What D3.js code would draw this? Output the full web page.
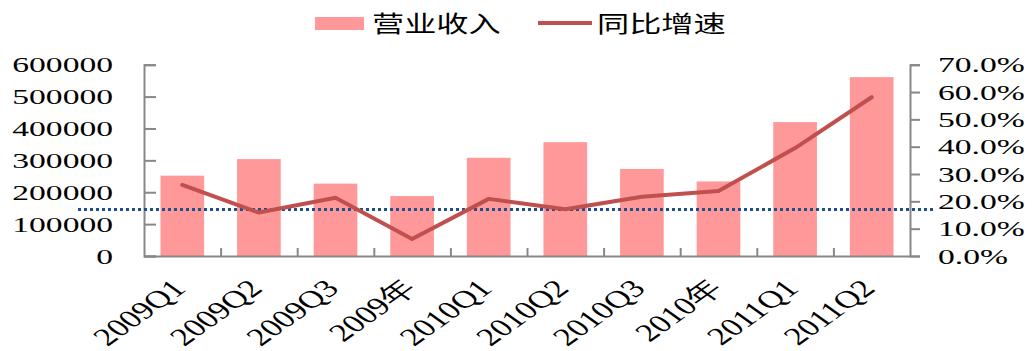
<!DOCTYPE html>
<html>
<head>
<meta charset="utf-8">
<script src="https://cdn.jsdelivr.net/npm/d3@7"></script>
<style>
  body { margin: 0; background: #fff; }
  svg { display: block; }
</style>
</head>
<body>
<div id="chart"></div>
<script>
// data
var categories = ['2009Q1', '2009Q2', '2009Q3', '2009年', '2010Q1', '2010Q2', '2010Q3', '2010年', '2011Q1', '2011Q2'];
var revenue = [252000, 304000, 227000, 188000, 308000, 357000, 273000, 234000, 420000, 561000];
var growth = [26.0, 15.9, 21.3, 6.2, 20.9, 17.1, 21.7, 23.8, 39.5, 58.1];
var leftTicks = [0, 100000, 200000, 300000, 400000, 500000, 600000];
var rightTicks = [0, 10, 20, 30, 40, 50, 60, 70];
var refLine = [17.0];
var legendNames = ['营业收入', '同比增速'];

(function () {
    var W = 1032, H = 351;
    var mLeft = 144, mRight = 910, mTop = 64.7, mBottom = 256;
    var SX = 1.6; // the original is stretched sideways
    var numFont = "'Liberation Serif', 'Times New Roman', serif";
    var cjkFont = "'Noto Sans CJK SC', sans-serif";
    var axisColor = '#888888';

    var svg = d3.select('#chart').append('svg')
        .attr('width', W)
        .attr('height', H);

    var x = d3.scaleBand()
        .domain(categories)
        .range([mLeft, mRight])
        .paddingInner(0.43)
        .paddingOuter(0.215);

    var yL = d3.scaleLinear().domain([0, 600000]).range([mBottom, mTop]);
    var yR = d3.scaleLinear().domain([0, 70]).range([mBottom, mTop]);
    var xBound = d3.scaleLinear().domain([0, categories.length]).range([mLeft, mRight]);

    // bars
    svg.append('g').selectAll('rect')
        .data(revenue)
        .enter()
        .append('rect')
        .attr('x', function (d, i) { return x(categories[i]); })
        .attr('y', function (d) { return yL(d); })
        .attr('width', x.bandwidth())
        .attr('height', function (d) { return yL(0) - yL(d); })
        .attr('fill', '#ff9999');

    // axes
    function styleAxis(g) {
        g.select('.domain').attr('stroke', axisColor).attr('stroke-width', 2);
        g.selectAll('.tick line').attr('stroke', axisColor).attr('stroke-width', 2);
    }

    var gL = svg.append('g')
        .attr('transform', 'translate(' + mLeft + ',0)')
        .call(d3.axisLeft(yL).tickValues(leftTicks).tickSizeInner(-12).tickSizeOuter(-12).tickFormat(d3.format('d')));
    styleAxis(gL);
    gL.selectAll('.tick text')
        .attr('x', 0).attr('dy', '0.34em')
        .attr('transform', 'translate(-31,0) scale(' + SX + ',1)')
        .attr('font-family', numFont).attr('font-size', 21)
        .attr('fill', '#000').attr('text-anchor', 'end');

    var gR = svg.append('g')
        .attr('transform', 'translate(' + mRight + ',0)')
        .call(d3.axisRight(yR).tickValues(rightTicks).tickSizeInner(10).tickSizeOuter(10)
            .tickFormat(function (d) { return d3.format('.1f')(d) + '%'; }));
    styleAxis(gR);
    gR.selectAll('.tick text')
        .attr('x', 0).attr('dy', '0.34em')
        .attr('transform', 'translate(28,0) scale(' + SX + ',1)')
        .attr('font-family', numFont).attr('font-size', 21)
        .attr('fill', '#000').attr('text-anchor', 'start');

    var gB = svg.append('g')
        .attr('transform', 'translate(0,' + mBottom + ')')
        .call(d3.axisBottom(xBound).tickValues(d3.range(1, categories.length)).tickSizeInner(-8).tickSizeOuter(0).tickFormat(''));
    styleAxis(gB);

    // category labels, tilted
    svg.append('g').selectAll('text')
        .data(categories)
        .enter()
        .append('text')
        .attr('text-anchor', 'end')
        .attr('transform', function (d) {
            return 'translate(' + (x(d) + x.bandwidth() / 2 + 5) + ',290) scale(1.4,1) rotate(-45)';
        })
        .attr('font-family', numFont)
        .attr('font-size', 25)
        .attr('fill', '#000')
        .text(function (d) { return d; });

    // reference dotted line
    svg.append('g').selectAll('line')
        .data(refLine)
        .enter()
        .append('line')
        .attr('x1', 78).attr('x2', 936)
        .attr('y1', function (d) { return yR(d); })
        .attr('y2', function (d) { return yR(d); })
        .attr('stroke', '#1f4e8c')
        .attr('stroke-width', 3)
        .attr('stroke-dasharray', '3,3');

    // growth line
    var line = d3.line()
        .x(function (d, i) { return x(categories[i]) + x.bandwidth() / 2; })
        .y(function (d) { return yR(d); });

    svg.append('path')
        .datum(growth)
        .attr('d', line)
        .attr('fill', 'none')
        .attr('stroke', '#c0504d')
        .attr('stroke-width', 4)
        .attr('stroke-linejoin', 'round')
        .attr('stroke-linecap', 'round');

    // legend
    var lg = svg.append('g');
    lg.append('rect')
        .attr('x', 315).attr('y', 17)
        .attr('width', 49).attr('height', 13)
        .attr('fill', '#ff9999');
    lg.append('line')
        .attr('x1', 538).attr('x2', 592)
        .attr('y1', 23).attr('y2', 23)
        .attr('stroke', '#c0504d')
        .attr('stroke-width', 4);
    lg.selectAll('text')
        .data(legendNames)
        .enter()
        .append('text')
        .attr('transform', function (d, i) {
            return 'translate(' + (i === 0 ? 372 : 597) + ',32) scale(1.4,1)';
        })
        .attr('font-family', cjkFont)
        .attr('font-size', 23)
        .attr('fill', '#000')
        .text(function (d) { return d; });
})();
</script>
</body>
</html>
